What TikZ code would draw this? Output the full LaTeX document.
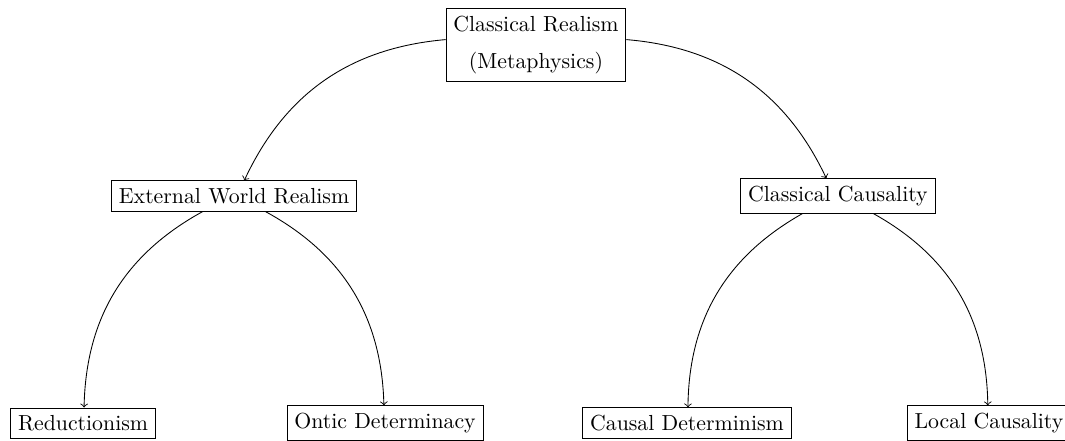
\documentclass[tikz,border=0pt]{standalone}
\begin{document}
\begin{tikzpicture}
[
    concept/.style={draw, rectangle},
    link/.style={->}
]
    \useasboundingbox (-8.645,0.726) rectangle (8.532,-6.371);

    \node [concept, align=center] (realism) at (0, 0) {Classical Realism\\[5pt](Metaphysics)};

    \node [concept] (external) at (-4.87, -2.435) {External World Realism};
    \node [concept] (causality) at (4.87, -2.435) {Classical Causality};

    \node [concept] (reduction) at (-7.305, -6.097) {Reductionism};
    \node [concept] (ontic) at (-2.435, -6.097) {Ontic Determinacy};
    \node [concept] (causaldet) at (2.435, -6.097) {Causal Determinism};
    \node [concept] (local) at (7.305, -6.097) {Local Causality};

    \draw [link] (realism) to [bend right] (external);
    \draw [link] (realism) to [bend left] (causality);

    \draw [link] (external) to [bend right] (reduction);
    \draw [link] (external) to [bend left] (ontic);
    \draw [link] (causality) to [bend right] (causaldet);
    \draw [link] (causality) to [bend left] (local);
\end{tikzpicture}
\end{document}
